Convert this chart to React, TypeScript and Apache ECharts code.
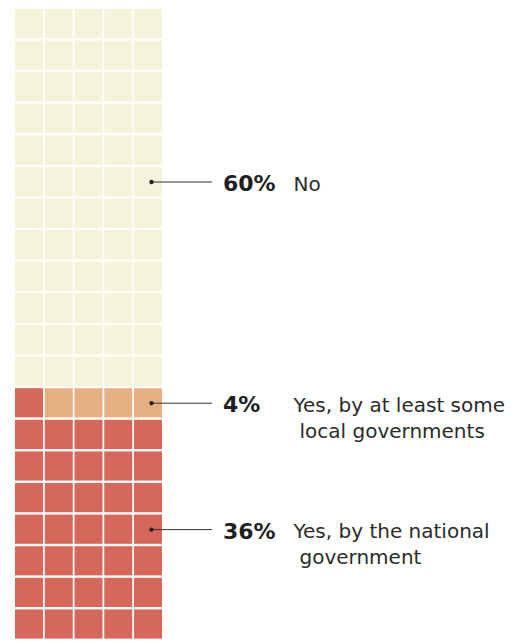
import React, { useEffect, useRef } from "react";
import * as echarts from "echarts";

// Survey categories (top-to-bottom as labelled) and their shares (%)
const categories = ["No", "Yes, by at least some local governments", "Yes, by the national government"];
const shares = [60, 4, 36];
const percentLabels = ["60%", "4%", "36%"];
const labelLines = [["No"], ["Yes, by at least some", "local governments"], ["Yes, by the national", "government"]];

// waffle layout
const COLS = 5;
const ROWS = 20;
const palette = ["#f5f3da", "#e6b083", "#d5685a"];
const labelAnchorCol = 4;
const labelAnchorRows = [5, 12, 16];

function buildCells() {
  // fill from bottom row, left to right, with categories in reverse order
  const cells: number[][] = [];
  let k = 0;
  for (let c = categories.length - 1; c >= 0; c--) {
    for (let i = 0; i < shares[c]; i++) {
      const row = ROWS - 1 - Math.floor(k / COLS);
      const col = k % COLS;
      cells.push([col, row, c]);
      k++;
    }
  }
  return cells;
}

export default function App() {
  const ref = useRef<HTMLDivElement>(null);
  useEffect(() => {
    document.body.style.margin = "0";
    if (!ref.current) return;
    const chart = echarts.init(ref.current, undefined, { renderer: "svg" });
    const cells = buildCells();
    const labelData = categories.map((_, i) => [labelAnchorCol, labelAnchorRows[i], i]);
    chart.setOption({
      animation: false,
      grid: { left: 15, top: 9, width: 148.75, height: 634 },
      xAxis: { type: "value", min: 0, max: COLS, show: false },
      yAxis: { type: "value", min: 0, max: ROWS, inverse: true, show: false },
      series: [
        {
          type: "custom",
          silent: true,
          data: cells,
          renderItem: (params: any, api: any) => {
            const p = api.coord([api.value(0), api.value(1)]);
            const s = api.size([1, 1]);
            return {
              type: "rect",
              shape: { x: p[0], y: p[1], width: s[0] - 1.75, height: s[1] - 2.4 },
              style: { fill: palette[api.value(2)] },
            };
          },
        },
        {
          type: "custom",
          silent: true,
          data: labelData,
          z: 10,
          renderItem: (params: any, api: any) => {
            const idx = api.value(2);
            const p = api.coord([api.value(0), api.value(1)]);
            const dx = p[0] + 17.5;
            const dy = p[1] + 15;
            const children: any[] = [
              { type: "line", shape: { x1: dx, y1: dy, x2: dx + 60.5, y2: dy }, style: { stroke: "#333", lineWidth: 1 } },
              { type: "circle", shape: { cx: dx, cy: dy, r: 2.2 }, style: { fill: "#222" } },
              {
                type: "text",
                style: {
                  text: percentLabels[idx],
                  x: dx + 71.5,
                  y: dy + 1.5,
                  fill: "#1f1f1f",
                  font: 'bold 22px "DejaVu Sans"',
                  verticalAlign: "middle",
                  align: "left",
                },
              },
            ];
            labelLines[idx].forEach((line, j) => {
              children.push({
                type: "text",
                style: {
                  text: line,
                  x: dx + 142 + (j > 0 ? 6 : 0),
                  y: dy + 1.5 + j * 26,
                  fill: "#2b2b2b",
                  font: '20px "DejaVu Sans"',
                  verticalAlign: "middle",
                  align: "left",
                },
              });
            });
            return { type: "group", children };
          },
        },
      ],
    });
    return () => chart.dispose();
  }, []);
  return <div ref={ref} style={{ width: 517, height: 641 }} />;
}
